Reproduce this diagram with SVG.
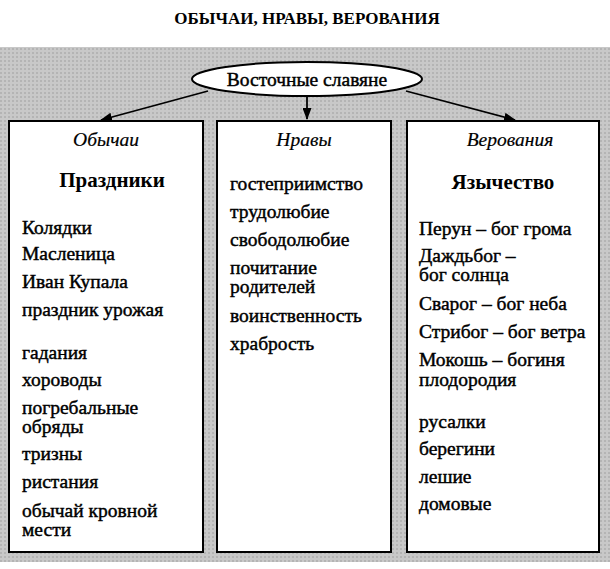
<svg xmlns="http://www.w3.org/2000/svg" width="610" height="569" viewBox="0 0 610 569">
<defs>
<pattern id="g" width="4" height="4" patternUnits="userSpaceOnUse"><rect width="4" height="4" fill="#c8c8c8"/><rect width="2" height="2" fill="#b4b4b4"/></pattern>
<marker id="a" markerWidth="12" markerHeight="9" refX="11" refY="4.5" orient="auto" markerUnits="userSpaceOnUse"><path d="M0,0L12,4.5L0,9Z" fill="#000"/></marker>
</defs>
<style>
text{font-family:"Liberation Serif","DejaVu Serif",serif;font-size:19.5px;fill:#000;stroke:#000;stroke-width:0.45}
.t{font-weight:bold;font-size:17px;stroke:none}
.i{font-style:italic;stroke-width:0.2}
.b{font-weight:bold;font-size:21px;stroke:none}
.box{fill:#fff;stroke:#000;stroke-width:2}
</style>
<rect width="610" height="569" fill="#fff"/>
<rect x="0" y="47" width="610" height="515" fill="url(#g)"/>
<text class="t" x="307" y="24" text-anchor="middle">ОБЫЧАИ, НРАВЫ, ВЕРОВАНИЯ</text>
<g id="connectors" stroke="#000" stroke-width="1.8" fill="none">
<path d="M208,91L101,120" marker-end="url(#a)"/>
<path d="M307,97V119" marker-end="url(#a)"/>
<path d="M406,91L515,120" marker-end="url(#a)"/>
</g>
<g id="root"><ellipse cx="307" cy="79" rx="115" ry="17" fill="#fff" stroke="#000" stroke-width="2"/><text x="307" y="86" text-anchor="middle">Восточные славяне</text></g>
<g id="customs"><rect class="box" x="9" y="121" width="194" height="431"/>
<text class="i" x="106" y="146" text-anchor="middle">Обычаи</text>
<text class="b" x="112" y="187" text-anchor="middle">Праздники</text>
<text x="22" y="234">Колядки</text><text x="22" y="260">Масленица</text><text x="22" y="288">Иван Купала</text><text x="22" y="316">праздник урожая</text>
<text x="22" y="359">гадания</text><text x="22" y="386">хороводы</text><text x="22" y="414">погребальные</text><text x="22" y="433">обряды</text><text x="22" y="460">тризны</text><text x="22" y="488">ристания</text><text x="22" y="517">обычай кровной</text><text x="22" y="536">мести</text></g>
<g id="morals"><rect class="box" x="217" y="121" width="174" height="431"/>
<text class="i" x="304" y="146" text-anchor="middle">Нравы</text>
<text x="230" y="190">гостеприимство</text><text x="230" y="218">трудолюбие</text><text x="230" y="246">свободолюбие</text><text x="230" y="274">почитание</text><text x="230" y="293">родителей</text><text x="230" y="322">воинственность</text><text x="230" y="350">храбрость</text></g>
<g id="beliefs"><rect class="box" x="407" y="121" width="192" height="431"/>
<text class="i" x="510" y="146" text-anchor="middle">Верования</text>
<text class="b" x="503" y="189" text-anchor="middle">Язычество</text>
<text x="419" y="235">Перун – бог грома</text><text x="419" y="262">Даждьбог –</text><text x="419" y="281">бог солнца</text><text x="419" y="310">Сварог – бог неба</text><text x="419" y="338">Стрибог – бог ветра</text><text x="419" y="366">Мокошь – богиня</text><text x="419" y="386">плодородия</text><text x="419" y="428">русалки</text><text x="419" y="455">берегини</text><text x="419" y="483">лешие</text><text x="419" y="510">домовые</text></g>
</svg>
